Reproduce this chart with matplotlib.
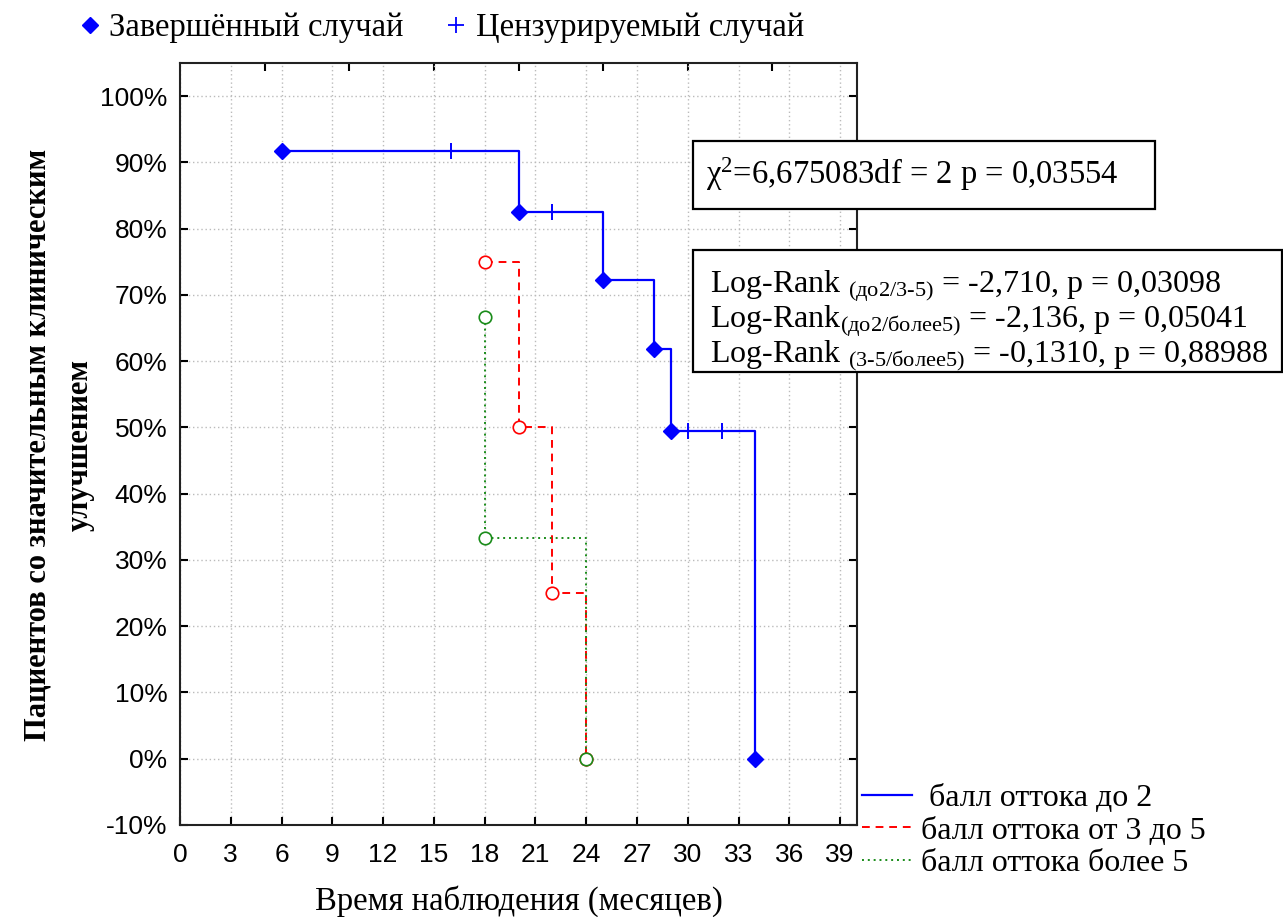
import matplotlib
matplotlib.use("Agg")
from matplotlib import pyplot as plt
from matplotlib.lines import Line2D
from matplotlib.patches import Rectangle
import numpy as np

# Kaplan-Meier data (percent of patients)
blue_times = [6, 20, 25, 28, 29, 34]
blue_surv = [91.7, 82.5, 72.2, 61.9, 49.5, 0]
blue_cens_times = [16, 22, 30, 32]
blue_cens_surv = [91.7, 82.5, 49.5, 49.5]

red_times = [18, 20, 22, 24]
red_surv = [75, 50, 25, 0]

green_times = [18, 18, 24]
green_surv = [66.7, 33.3, 0]

group_labels = [" балл оттока до 2", "балл оттока от 3 до 5", "балл оттока более 5"]
event_labels = ["Завершённый случай", "Цензурируемый случай"]

x_ticks = list(range(0, 40, 3))
y_ticks = list(range(-10, 101, 10))

stat_text = "χ$^{2}$=6,675083df = 2 p = 0,03554"
logrank_lines = [
    r"Log-Rank $_{\text{(до2/3-5)}}$ = -2,710, p = 0,03098",
    r"Log-Rank$_{\text{(до2/более5)}}$ = -2,136, p = 0,05041",
    r"Log-Rank $_{\text{(3-5/более5)}}$ = -0,1310, p = 0,88988",
]

plt.rcParams['mathtext.fontset'] = 'custom'
plt.rcParams['mathtext.rm'] = 'Liberation Serif'
plt.rcParams['mathtext.it'] = 'Liberation Serif:italic'
plt.rcParams['mathtext.bf'] = 'Liberation Serif:bold'
serif = ['Liberation Serif', 'DejaVu Serif']
sans = ['Liberation Sans', 'DejaVu Sans']

W, H = 1283, 917
fig = plt.figure(figsize=(W / 100, H / 100), dpi=100)
ax = fig.add_axes([180 / W, 1 - 825 / H, (857 - 180) / W, (825 - 63) / H])

# curves
l1, = ax.plot(blue_times, blue_surv, drawstyle='steps-post', color='#0000ff', lw=1.6)
ax.plot(blue_times, blue_surv, ls='', marker='D', ms=8, color='#0000ff')
ax.plot(blue_cens_times, blue_cens_surv, ls='', marker='+', ms=12, mew=1.4, color='#0000ff')

l2, = ax.plot(red_times, red_surv, drawstyle='steps-post', color='#ff0000', lw=1.4,
              dashes=(4, 3))
ax.plot(red_times, red_surv, ls='', marker='o', ms=9, mfc='white', mec='#ff0000', mew=1.2)

l3, = ax.plot(green_times, green_surv, drawstyle='steps-post', color='#1a8c1a', lw=1.4,
              dashes=(1, 2))
ax.plot(green_times, green_surv, ls='', marker='o', ms=9, mfc='white', mec='#1a8c1a', mew=1.2)

ax.set_xlim(0, 40)
ax.set_ylim(-10, 105)
ax.set_xticks(x_ticks)
ax.set_yticks(y_ticks)
ax.set_yticklabels([f"{v}%" for v in y_ticks])
ax.tick_params(direction='in', length=6, width=1.5, right=True, labelsize=19, pad=9)
ax.tick_params(axis='x', pad=13)
for lab in ax.get_xticklabels() + ax.get_yticklabels():
    lab.set_family(sans)
ax.grid(True, ls=(0, (1, 2)), color='#bbbbbb', lw=1)
for s in ax.spines.values():
    s.set_linewidth(1.5)
    s.set_color('#222222')

top = ax.secondary_xaxis('top')
top.set_xticks(list(range(5, 40, 5)))
top.tick_params(direction='in', length=6, width=1.5, labeltop=False)
top.spines['top'].set_visible(False)

ax.set_xlabel("Время наблюдения (месяцев)", family=serif, fontsize=23.5, labelpad=13)
fig.text(38 / W, 1 - 445 / H, "Пациентов со значительным клиническим",
         rotation=90, ha='center', va='center', family=serif, fontsize=22, fontweight='bold')
fig.text(80 / W, 1 - 445 / H, "улучшением",
         rotation=90, ha='center', va='center', family=serif, fontsize=22, fontweight='bold')

# top legend of markers
h_event = Line2D([], [], ls='', marker='D', ms=8, color='#0000ff')
h_cens = Line2D([], [], ls='', marker='+', ms=11, mew=1.3, color='#0000ff')
fig.legend([h_event, h_cens], event_labels, loc='center left',
           bbox_to_anchor=(80 / W, 1 - 28 / H), ncol=2, frameon=False,
           prop={'family': serif, 'size': 23.5}, handlelength=0.6,
           handletextpad=0.3, columnspacing=1.3, borderpad=0, borderaxespad=0)

# group legend
fig.legend([l1, l2, l3], group_labels, loc='upper left',
           bbox_to_anchor=(862 / W, 1 - 784 / H), frameon=False,
           prop={'family': serif, 'size': 23}, handlelength=1.57,
           handletextpad=0.28, labelspacing=0.09, borderpad=0, borderaxespad=0)

# statistics boxes
fig.add_artist(Rectangle((693 / W, 1 - 209 / H), (1155 - 693) / W, (209 - 141) / H,
                         transform=fig.transFigure, fill=True, fc='white', ec='black', lw=1.6))
fig.text(706 / W, 1 - 174 / H, stat_text, family=serif, fontsize=23.5, va='center')

fig.add_artist(Rectangle((693 / W, 1 - 372 / H), (1282 - 693) / W, (372 - 250) / H,
                         transform=fig.transFigure, fill=True, fc='white', ec='black', lw=1.6))
for i, line in enumerate(logrank_lines):
    fig.text(710 / W, 1 - (286 + 35 * i) / H, line, family=serif, fontsize=23, va='center')

fig.savefig("out.png", dpi=100)
